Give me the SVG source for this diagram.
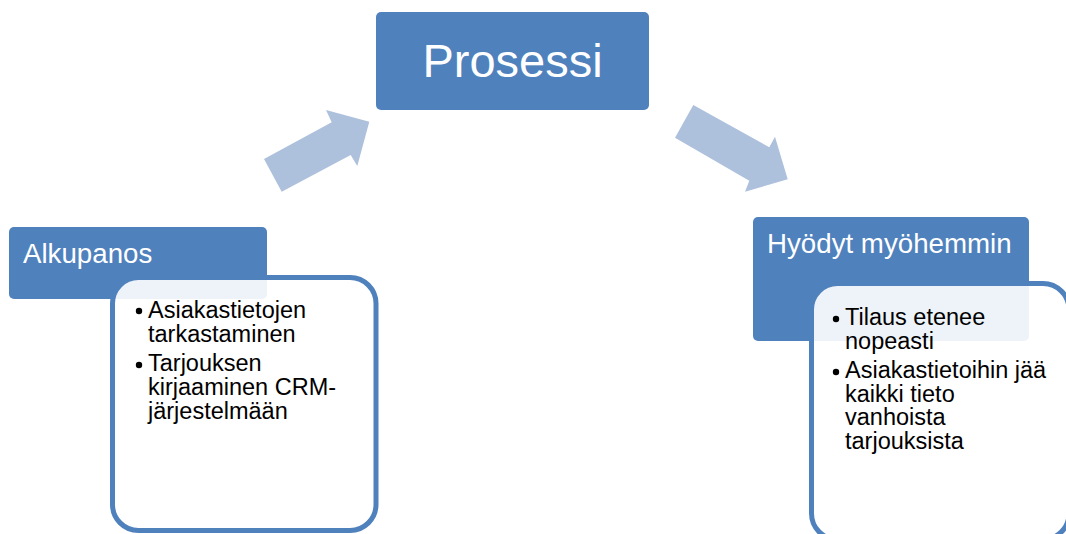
<svg xmlns="http://www.w3.org/2000/svg" width="1066" height="534" viewBox="0 0 1066 534">
  <style>
    .head { fill: #4f81bd; }
    .card { fill: #ffffff; fill-opacity: 0.9; stroke: #4f81bd; stroke-width: 5; }
    .title { font-family: "Liberation Sans", Arial, sans-serif; fill: #ffffff; }
    .item { font-family: "Liberation Sans", Arial, sans-serif; font-size: 23.5px; fill: #000000; }
    .dot { fill: #000000; }
    .flow { fill: #adc0dc; }
  </style>
  <rect width="1066" height="534" fill="#ffffff"/>

  <!-- flow arrows between the stages -->
  <g id="connectors">
    <polygon class="flow" points="264,159 331.7,122.3 326,110 369.3,121.7 357.3,166 350.7,155 281.7,191.7"/>
    <polygon class="flow" points="693.3,105 769.3,147.3 775,136.7 787.7,179.3 745,191.7 749.3,180.7 675,137.7"/>
  </g>

  <!-- central stage -->
  <g id="prosessi">
    <rect class="head" x="376" y="12" width="273" height="98" rx="5"/>
    <text class="title" x="512.5" y="77" font-size="47" text-anchor="middle">Prosessi</text>
  </g>

  <!-- input stage -->
  <g id="alkupanos">
    <rect class="head" x="9" y="227" width="258" height="72" rx="5"/>
    <text class="title" x="23" y="263" font-size="27.7">Alkupanos</text>
    <rect class="card" x="112.5" y="277.5" width="263.5" height="253" rx="26"/>
    <circle class="dot" cx="139" cy="311" r="3.2"/>
    <text class="item" x="148" y="317.5">Asiakastietojen</text>
    <text class="item" x="148" y="341.5">tarkastaminen</text>
    <circle class="dot" cx="139" cy="365" r="3.2"/>
    <text class="item" x="148" y="371">Tarjouksen</text>
    <text class="item" x="148" y="395">kirjaaminen CRM-</text>
    <text class="item" x="148" y="418.5">järjestelmään</text>
  </g>

  <!-- later benefits -->
  <g id="hyodyt">
    <rect class="head" x="753" y="217" width="276" height="124" rx="5"/>
    <text class="title" x="767" y="253" font-size="27.7">Hyödyt myöhemmin</text>
    <rect class="card" x="811.5" y="283.5" width="257.5" height="256" rx="26"/>
    <circle class="dot" cx="836" cy="319" r="3.2"/>
    <text class="item" x="845" y="325">Tilaus etenee</text>
    <text class="item" x="845" y="348.5">nopeasti</text>
    <circle class="dot" cx="836" cy="372" r="3.2"/>
    <text class="item" x="845" y="378">Asiakastietoihin jää</text>
    <text class="item" x="845" y="401.5">kaikki tieto</text>
    <text class="item" x="845" y="425">vanhoista</text>
    <text class="item" x="845" y="448.5">tarjouksista</text>
  </g>
</svg>
